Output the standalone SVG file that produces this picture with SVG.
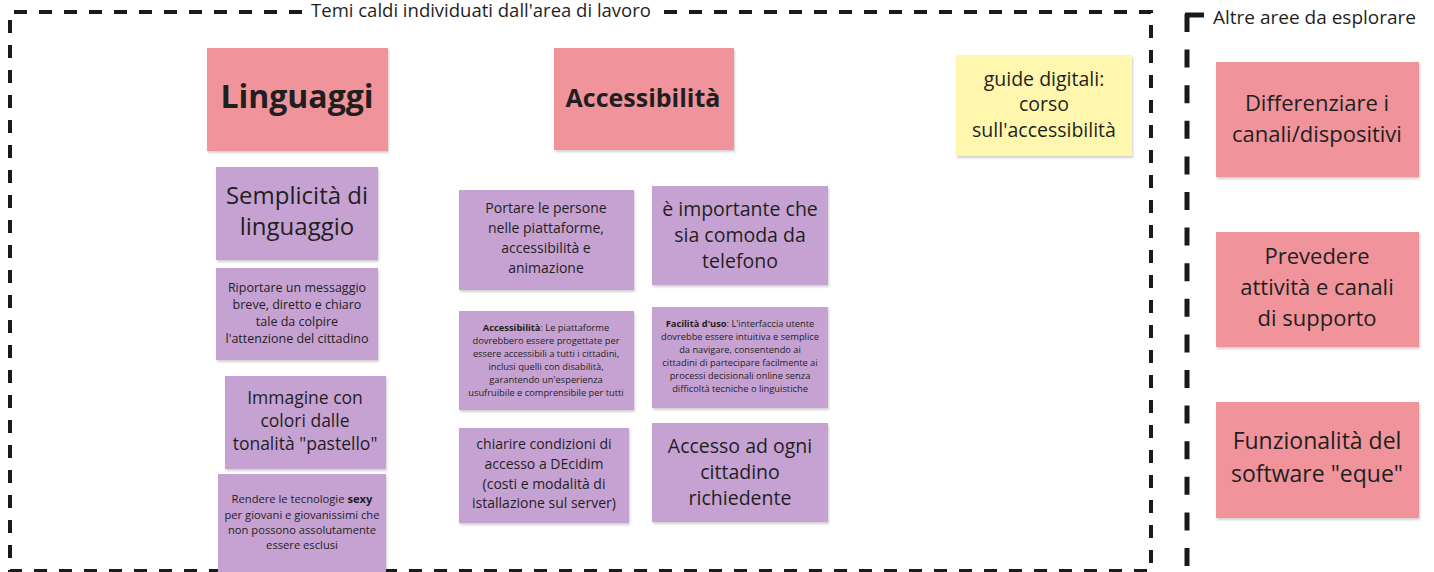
<svg xmlns="http://www.w3.org/2000/svg" width="1434" height="572" viewBox="0 0 1434 572">
<style>
  text { font-family: "Open Sans", "Noto Sans", "Liberation Sans", sans-serif; fill: #1f1f1f; text-anchor: middle; }
  .pink { fill: #f0939b; }
  .purple { fill: #c6a2d2; }
  .yellow { fill: #fff7ad; }
  .note { filter: url(#sh); }
  .frame { fill: none; stroke: #1a1a1a; stroke-width: 4; stroke-dasharray: 13 12; }
  .frame2 { fill: none; stroke: #1a1a1a; stroke-width: 5; }
  .b { font-weight: bold; }
</style>
<defs>
  <filter id="sh" x="-10%" y="-10%" width="120%" height="130%">
    <feDropShadow dx="1" dy="2" stdDeviation="1.2" flood-color="#000" flood-opacity="0.18"/>
  </filter>
</defs>
<rect width="1434" height="572" fill="#ffffff"/>

<g id="frames">
  <path class="frame" d="M302,12 H10 V571 H1151 V12 H660"/>
  <text x="481" y="16.5" style="font-size:18.5px">Temi caldi individuati dall'area di lavoro</text>
  <path class="frame2" d="M1185,15 H1204"/>
  <path class="frame2" d="M1187,14 V572" style="stroke-dasharray:18 17.6"/>
  <text x="1213" y="23.5" style="font-size:19px;text-anchor:start">Altre aree da esplorare</text>
</g>

<g id="connectors"></g>

<g id="linguaggi">
  <rect class="pink note" x="207" y="48" width="181" height="103"/>
  <text x="297" y="108" class="b" style="font-size:32px">Linguaggi</text>
</g>
<g id="accessibilita">
  <rect class="pink note" x="554" y="48" width="180" height="102"/>
  <text x="643" y="106.5" class="b" style="font-size:25px">Accessibilità</text>
</g>
<g id="guide">
  <rect class="yellow note" x="956" y="55" width="176" height="101"/>
  <text x="1044" y="85.5" style="font-size:19.5px">guide digitali:</text>
  <text x="1044" y="111" style="font-size:19.5px">corso</text>
  <text x="1044" y="136.5" style="font-size:19.5px">sull'accessibilità</text>
</g>

<g id="semplicita">
  <rect class="purple note" x="216" y="167" width="162" height="93"/>
  <text x="297" y="204" style="font-size:24px">Semplicità di</text>
  <text x="297" y="235" style="font-size:24px">linguaggio</text>
</g>
<g id="riportare">
  <rect class="purple note" x="216" y="268" width="162" height="92"/>
  <text x="297" y="292" style="font-size:12.5px">Riportare un messaggio</text>
  <text x="297" y="309" style="font-size:12.5px">breve, diretto e chiaro</text>
  <text x="297" y="326" style="font-size:12.5px">tale da colpire</text>
  <text x="297" y="343" style="font-size:12.5px">l'attenzione del cittadino</text>
</g>
<g id="immagine">
  <rect class="purple note" x="225" y="376" width="161" height="93"/>
  <text x="305" y="404" style="font-size:17.5px">Immagine con</text>
  <text x="305" y="427" style="font-size:17.5px">colori dalle</text>
  <text x="305" y="450" style="font-size:17.5px">tonalità "pastello"</text>
</g>
<g id="rendere">
  <rect class="purple note" x="218" y="474" width="168" height="100"/>
  <text x="302" y="503" style="font-size:11.2px">Rendere le tecnologie <tspan class="b">sexy</tspan></text>
  <text x="302" y="519" style="font-size:11.2px">per giovani e giovanissimi che</text>
  <text x="302" y="534" style="font-size:11.2px">non possono assolutamente</text>
  <text x="302" y="549" style="font-size:11.2px">essere esclusi</text>
</g>

<g id="portare">
  <rect class="purple note" x="459" y="190" width="175" height="100"/>
  <text x="546" y="213" style="font-size:14px">Portare le persone</text>
  <text x="546" y="233" style="font-size:14px">nelle piattaforme,</text>
  <text x="546" y="253" style="font-size:14px">accessibilità e</text>
  <text x="546" y="273" style="font-size:14px">animazione</text>
</g>
<g id="importante">
  <rect class="purple note" x="652" y="186" width="176" height="99"/>
  <text x="740" y="216" style="font-size:19.5px">è importante che</text>
  <text x="740" y="242" style="font-size:19.5px">sia comoda da</text>
  <text x="740" y="268" style="font-size:19.5px">telefono</text>
</g>
<g id="accessibilita-desc">
  <rect class="purple note" x="459" y="311" width="175" height="99"/>
  <text x="546" y="330.5" style="font-size:9.3px"><tspan class="b">Accessibilità</tspan>: Le piattaforme</text>
  <text x="546" y="343.5" style="font-size:9.3px">dovrebbero essere progettate per</text>
  <text x="546" y="356.5" style="font-size:9.3px">essere accessibili a tutti i cittadini,</text>
  <text x="546" y="369.5" style="font-size:9.3px">inclusi quelli con disabilità,</text>
  <text x="546" y="382.5" style="font-size:9.3px">garantendo un'esperienza</text>
  <text x="546" y="395.5" style="font-size:9.3px">usufruibile e comprensibile per tutti</text>
</g>
<g id="facilita">
  <rect class="purple note" x="652" y="307" width="176" height="101"/>
  <text x="740" y="326.5" style="font-size:9.3px"><tspan class="b">Facilità d'uso</tspan>: L'interfaccia utente</text>
  <text x="740" y="339.5" style="font-size:9.3px">dovrebbe essere intuitiva e semplice</text>
  <text x="740" y="352.5" style="font-size:9.3px">da navigare, consentendo ai</text>
  <text x="740" y="365.5" style="font-size:9.3px">cittadini di partecipare facilmente ai</text>
  <text x="740" y="378.5" style="font-size:9.3px">processi decisionali online senza</text>
  <text x="740" y="391.5" style="font-size:9.3px">difficoltà tecniche o linguistiche</text>
</g>
<g id="chiarire">
  <rect class="purple note" x="459" y="428" width="170" height="95"/>
  <text x="544" y="449" style="font-size:14px">chiarire condizioni di</text>
  <text x="544" y="469" style="font-size:14px">accesso a DEcidim</text>
  <text x="544" y="489" style="font-size:14px">(costi e modalità di</text>
  <text x="544" y="508" style="font-size:14px">istallazione sul server)</text>
</g>
<g id="accesso">
  <rect class="purple note" x="652" y="423" width="176" height="99"/>
  <text x="740" y="453" style="font-size:19.5px">Accesso ad ogni</text>
  <text x="740" y="479" style="font-size:19.5px">cittadino</text>
  <text x="740" y="505" style="font-size:19.5px">richiedente</text>
</g>

<g id="differenziare">
  <rect class="pink note" x="1216" y="62" width="203" height="115"/>
  <text x="1317" y="111" style="font-size:22px">Differenziare i</text>
  <text x="1317" y="142" style="font-size:22px">canali/dispositivi</text>
</g>
<g id="prevedere">
  <rect class="pink note" x="1216" y="232" width="203" height="115"/>
  <text x="1317" y="264" style="font-size:22px">Prevedere</text>
  <text x="1317" y="295" style="font-size:22px">attività e canali</text>
  <text x="1317" y="326" style="font-size:22px">di supporto</text>
</g>
<g id="funzionalita">
  <rect class="pink note" x="1216" y="402" width="203" height="116"/>
  <text x="1317" y="449" style="font-size:23px">Funzionalità del</text>
  <text x="1317" y="482" style="font-size:23px">software "eque"</text>
</g>
</svg>
